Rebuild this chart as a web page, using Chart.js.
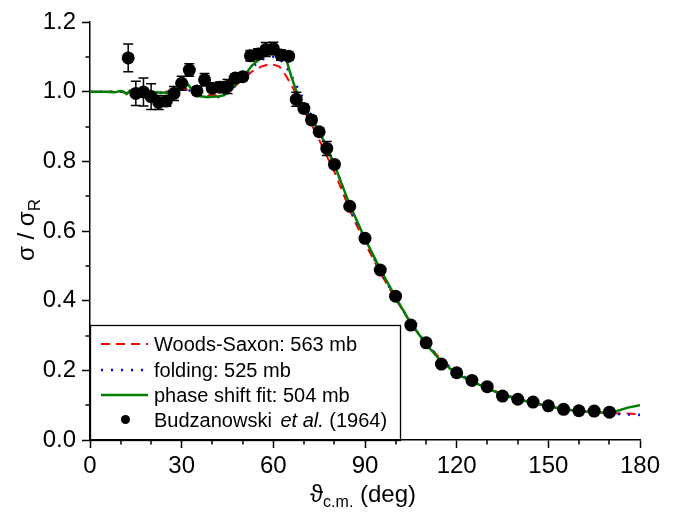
<!DOCTYPE html>
<html><head><meta charset="utf-8">
<script src="https://cdn.jsdelivr.net/npm/chart.js@4/dist/chart.umd.min.js"></script>
<style>html,body{margin:0;padding:0;background:#fff;}canvas{display:block;}</style>
</head><body>
<canvas id="c" width="684" height="512"></canvas>
<script>
// ---- measured data (Budzanowski et al. 1964) ----
const angles = [12.5,15,17.5,20,22.5,25,27.5,30,32.5,35,37.5,40,42.5,45,47.5,50,52.5,55,57.5,60,62.5,65,67.5,70,72.5,75,77.5,80,85,90,95,100,105,110,115,120,125,130,135,140,145,150,155,160,165,170];
const ratio  = [1.097,0.995,0.999,0.986,0.969,0.973,0.995,1.024,1.062,1.002,1.034,1.010,1.013,1.015,1.039,1.043,1.103,1.108,1.121,1.124,1.105,1.102,0.978,0.952,0.919,0.885,0.837,0.791,0.671,0.579,0.488,0.413,0.330,0.279,0.218,0.193,0.171,0.153,0.126,0.117,0.109,0.098,0.088,0.084,0.083,0.080];
const errors = [0.040,0.035,0.040,0.037,0.020,0.015,0.020,0.020,0.018,0.010,0.018,0.010,0.015,0.020,0.010,0.010,0.015,0.015,0.020,0.018,0.015,0.012,0.020,0.012,0.012,0.010,0.020,0.010,0.005,0.005,0.005,0.005,0.005,0.005,0.005,0.005,0.005,0.005,0.005,0.005,0.005,0.005,0.005,0.005,0.005,0.005];

// ---- Woods-Saxon curve ----
const wsX = [0,5,10,12,15,20,25,28,31,34,37,41,44,47,50,53,56,59,62,64,66,68,70,72.5,75,77.5,80,85,90,95,100,105,110,115,120,125,130,135,140,145,150,155,160,165,170,175,180];
const wsY = [1.0,1.0,1.0,0.996,0.997,0.995,1.0,1.008,1.01,0.995,0.99,0.99,0.995,1.012,1.035,1.058,1.072,1.08,1.072,1.048,1.017,0.985,0.945,0.905,0.862,0.815,0.77,0.66,0.565,0.48,0.405,0.335,0.278,0.23,0.195,0.17,0.15,0.132,0.118,0.107,0.097,0.089,0.083,0.079,0.077,0.076,0.074];

// ---- folding curve ----
const foldX = [0,5,10,15,20,25,28,31,34,38,42,45,48,51,54,57,60,62,64,66,68,70,72.5,75,77.5,80,85,90,95,100,105,110,115,120,125,130,135,140,145,150,155,160,165,170,175,180];
const foldY = [1.0,1.0,1.0,0.997,0.996,0.998,1.005,1.012,0.995,0.985,0.985,0.995,1.02,1.05,1.077,1.095,1.1,1.095,1.075,1.045,1.01,0.975,0.93,0.885,0.84,0.79,0.67,0.572,0.485,0.408,0.335,0.277,0.228,0.193,0.17,0.15,0.132,0.118,0.107,0.097,0.089,0.083,0.079,0.076,0.074,0.072];

// ---- phase shift fit curve ----
const psX = [0,5,8,10,11,12,13,15,20,25,28,30,32,33,35,38,42,44,47,50,53,56,58,60,62,64,65,66,68,70,72.5,75,77.5,80,85,90,95,100,105,110,115,120,125,130,135,140,145,150,155,160,165,170,172,176,180];
const psY = [1.0,1.0,0.998,1.002,1.0,0.993,1.003,0.998,0.998,0.997,1.0,1.015,1.022,1.01,0.988,0.985,0.986,0.99,1.015,1.04,1.075,1.097,1.105,1.11,1.11,1.1,1.07,1.04,0.99,0.955,0.92,0.885,0.84,0.79,0.675,0.578,0.49,0.41,0.335,0.275,0.225,0.19,0.168,0.148,0.13,0.117,0.107,0.097,0.088,0.083,0.08,0.079,0.082,0.093,0.1];

// ---- axis ticks / labels ----
const xMajor = [0,30,60,90,120,150,180];
const xMinor = [10,20,40,50,70,80,100,110,130,140,160,170];
const yMajor = [0,0.2,0.4,0.6,0.8,1.0,1.2];
const yMinor = [0.1,0.3,0.5,0.7,0.9,1.1];
const legendLabels = ['Woods-Saxon: 563 mb','folding: 525 mb','phase shift fit: 504 mb','Budzanowski'];

const FONT = "'Liberation Sans', Arial, sans-serif";
const pts = (xs, ys) => xs.map((x,i)=>({x:x,y:ys[i]}));

const errorBars = {
  id:'errorBars',
  beforeDatasetDraw(chart, args){
    if (args.index !== 0) return;
    const ctx = chart.ctx, xs = chart.scales.x, ys = chart.scales.y;
    ctx.save();
    ctx.strokeStyle = '#000'; ctx.lineWidth = 1.5;
    angles.forEach((a,i)=>{
      const px = xs.getPixelForValue(a);
      const y1 = ys.getPixelForValue(ratio[i]+errors[i]);
      const y2 = ys.getPixelForValue(ratio[i]-errors[i]);
      ctx.beginPath();
      ctx.moveTo(px,y1); ctx.lineTo(px,y2);
      ctx.moveTo(px-5,y1); ctx.lineTo(px+5,y1);
      ctx.moveTo(px-5,y2); ctx.lineTo(px+5,y2);
      ctx.stroke();
    });
    ctx.restore();
  }
};

const decorations = {
  id:'decorations',
  afterDraw(chart){
    const ctx = chart.ctx, xs = chart.scales.x, ys = chart.scales.y, ca = chart.chartArea;
    ctx.save();
    // minor ticks
    ctx.strokeStyle = '#000'; ctx.lineWidth = 1.5;
    ctx.beginPath();
    xMinor.forEach(v=>{const p = Math.round(xs.getPixelForValue(v)); ctx.moveTo(p, ca.bottom); ctx.lineTo(p, ca.bottom+4.5);});
    yMinor.forEach(v=>{const p = Math.round(ys.getPixelForValue(v)); ctx.moveTo(ca.left, p); ctx.lineTo(ca.left-4.5, p);});
    ctx.stroke();

    // legend box
    const L = ca.left, T = 325, R = 401, B = ca.bottom;
    ctx.fillStyle = '#fff';
    ctx.fillRect(L+1, T, R-L-1, B-T-1);
    ctx.lineWidth = 1.3; ctx.strokeStyle = '#000';
    ctx.strokeRect(L+0.5, T+0.5, R-L-1, B-T);
    const ds = chart.data.datasets;
    const rows = [{d:ds[3],y:344},{d:ds[2],y:370},{d:ds[1],y:395}];
    rows.forEach((r,i)=>{
      ctx.save();
      ctx.strokeStyle = r.d.borderColor; ctx.lineWidth = r.d.borderWidth;
      ctx.setLineDash(r.d.borderDash || []);
      ctx.beginPath(); ctx.moveTo(101, r.y); ctx.lineTo(148, r.y); ctx.stroke();
      ctx.restore();
      ctx.fillStyle = '#000'; ctx.font = '20px ' + FONT; ctx.textBaseline = 'alphabetic';
      ctx.fillText(legendLabels[i], 154, r.y + 7);
    });
    ctx.fillStyle = '#000';
    ctx.beginPath(); ctx.arc(125.5, 419.5, 4.5, 0, Math.PI*2); ctx.fill();
    ctx.font = '20px ' + FONT;
    ctx.fillText(legendLabels[3], 154, 426.5);
    let x = 154 + ctx.measureText(legendLabels[3]+' ').width + 3;
    ctx.font = 'italic 20px ' + FONT;
    ctx.fillText('et al.', x, 426.5);
    x += ctx.measureText('et al. ').width;
    ctx.font = '20px ' + FONT;
    ctx.fillText('(1964)', x, 426.5);

    // x title
    ctx.font = '24px ' + FONT;
    const t1 = 'ϑ', t3 = ' (deg)';
    const w1 = ctx.measureText(t1).width, w3 = ctx.measureText(t3).width;
    ctx.font = '16px ' + FONT;
    const t2 = 'c.m.', w2 = ctx.measureText(t2).width;
    let sx = 363 - (w1+w2+w3)/2;
    ctx.font = '24px ' + FONT; ctx.fillText(t1, sx, 502);
    ctx.font = '16px ' + FONT; ctx.fillText(t2, sx + w1, 507);
    ctx.font = '24px ' + FONT; ctx.fillText(t3, sx + w1 + w2, 502);

    // y title
    ctx.save();
    ctx.translate(34, 230); ctx.rotate(-Math.PI/2);
    ctx.font = '24px ' + FONT;
    const a1 = 'σ / σ', aw1 = ctx.measureText(a1).width;
    ctx.font = '17px ' + FONT;
    const aw2 = ctx.measureText('R').width;
    const s0 = -(aw1+aw2)/2;
    ctx.font = '24px ' + FONT; ctx.fillText(a1, s0, 0);
    ctx.font = '17px ' + FONT; ctx.fillText('R', s0 + aw1, 6);
    ctx.restore();
    ctx.restore();
  }
};

new Chart(document.getElementById('c'), {
  type:'scatter',
  data:{datasets:[
    {label:'Budzanowski et al. (1964)', data:pts(angles, ratio), showLine:false, pointRadius:6.5, pointHoverRadius:6.5, backgroundColor:'#000', borderColor:'#000', borderWidth:0},
    {label:'phase shift fit: 504 mb', data:pts(psX, psY), showLine:true, pointRadius:0, borderColor:'#007f00', borderWidth:2.5, tension:0, fill:false},
    {label:'folding: 525 mb', data:pts(foldX, foldY), showLine:true, pointRadius:0, borderColor:'#0000ff', borderWidth:2.5, borderDash:[2,8], tension:0, fill:false},
    {label:'Woods-Saxon: 563 mb', data:pts(wsX, wsY), showLine:true, pointRadius:0, borderColor:'#ff0000', borderWidth:2, borderDash:[9,6], tension:0, fill:false}
  ]},
  options:{
    responsive:false, animation:false, devicePixelRatio:1,
    layout:{padding:{top:22,right:44,left:0,bottom:0}},
    plugins:{legend:{display:false}, tooltip:{enabled:false}},
    scales:{
      x:{type:'linear', min:0, max:180,
        afterBuildTicks:s=>{s.ticks = xMajor.map(v=>({value:v}));},
        afterFit:s=>{s.height = 72;},
        ticks:{color:'#000', font:{family:FONT, size:24}, padding:4, maxRotation:0},
        grid:{drawOnChartArea:false, tickLength:8, tickWidth:1.5, tickColor:'#000'},
        border:{color:'#000', width:1.5}},
      y:{type:'linear', min:0, max:1.2,
        afterBuildTicks:s=>{s.ticks = yMajor.map(v=>({value:v}));},
        afterFit:s=>{s.width = 90;},
        ticks:{color:'#000', font:{family:FONT, size:24}, padding:6, callback:v=>Number(v).toFixed(1)},
        grid:{drawOnChartArea:false, tickLength:8, tickWidth:1.5, tickColor:'#000'},
        border:{color:'#000', width:1.5}}
    }
  },
  plugins:[errorBars, decorations]
});
</script>
</body></html>
